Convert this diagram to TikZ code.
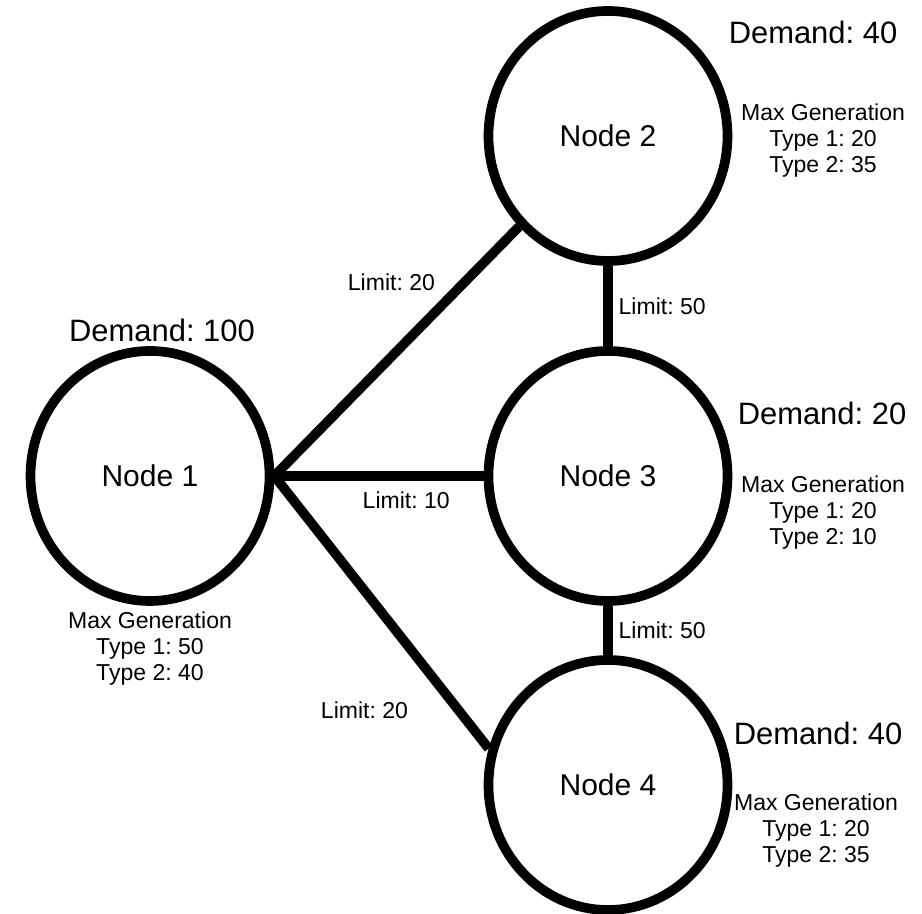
\documentclass[tikz,border=0pt]{standalone}
\usepackage{fontspec}
\setmainfont{Liberation Sans}
\usetikzlibrary{shapes.geometric}
\frenchspacing

\begin{document}
\begin{tikzpicture}[bus/.style={ellipse,draw,line width=5.5pt,minimum width=4.78cm,minimum height=5cm,inner sep=0pt,font=\fontsize{17.1}{20}\selectfont},
		demand/.style={font=\fontsize{17.6}{21}\selectfont},
		gen/.style={align=center,font=\fontsize{13.1}{14.8}\selectfont},
		lim/.style={font=\fontsize{13.1}{14.8}\selectfont},
		line/.style={line width=5.5pt}]
			\useasboundingbox (0,0) rectangle (18.44,18.28);
			\node[bus](n1)at(3,8.76){Node 1};
			\node[bus](n2)at(12.16,15.56){Node 2};
			\node[bus](n3)at(12.16,8.76){Node 3};
			\node[bus](n4)at(12.16,2.58){Node 4};
			\node[demand](d1)at(3.24,11.68){Demand: 100};
			\node[demand](d2)at(16.26,17.64){Demand: 40};
			\node[demand](d3)at(16.44,10.02){Demand: 20};
			\node[demand](d4)at(16.36,3.62){Demand: 40};
			\node[gen](g1)at(3,5.3){Max Generation\\Type 1: 50\\Type 2: 40};
			\node[gen](g2)at(16.46,15.46){Max Generation\\Type 1: 20\\Type 2: 35};
			\node[gen](g3)at(16.46,8.02){Max Generation\\Type 1: 20\\Type 2: 10};
			\node[gen](g4)at(16.32,1.66){Max Generation\\Type 1: 20\\Type 2: 35};
			\draw[line,above left](n1.east)edge node[lim,pos=.7]{Limit: 20}(n2);
			\draw[line,below](n1.east)edge node[lim,pos=.63,yshift=-.1cm]{Limit: 10}(n3);
			\draw[line,left](n1.east)edge node[lim,pos=.86,xshift=-.8cm]{Limit: 20}(n4.163);
			\draw[line,right](n2)edge node[lim]{Limit: 50}(n3);
			\draw[line,right](n3)edge node[lim]{Limit: 50}(n4);
		\end{tikzpicture}
\end{document}
